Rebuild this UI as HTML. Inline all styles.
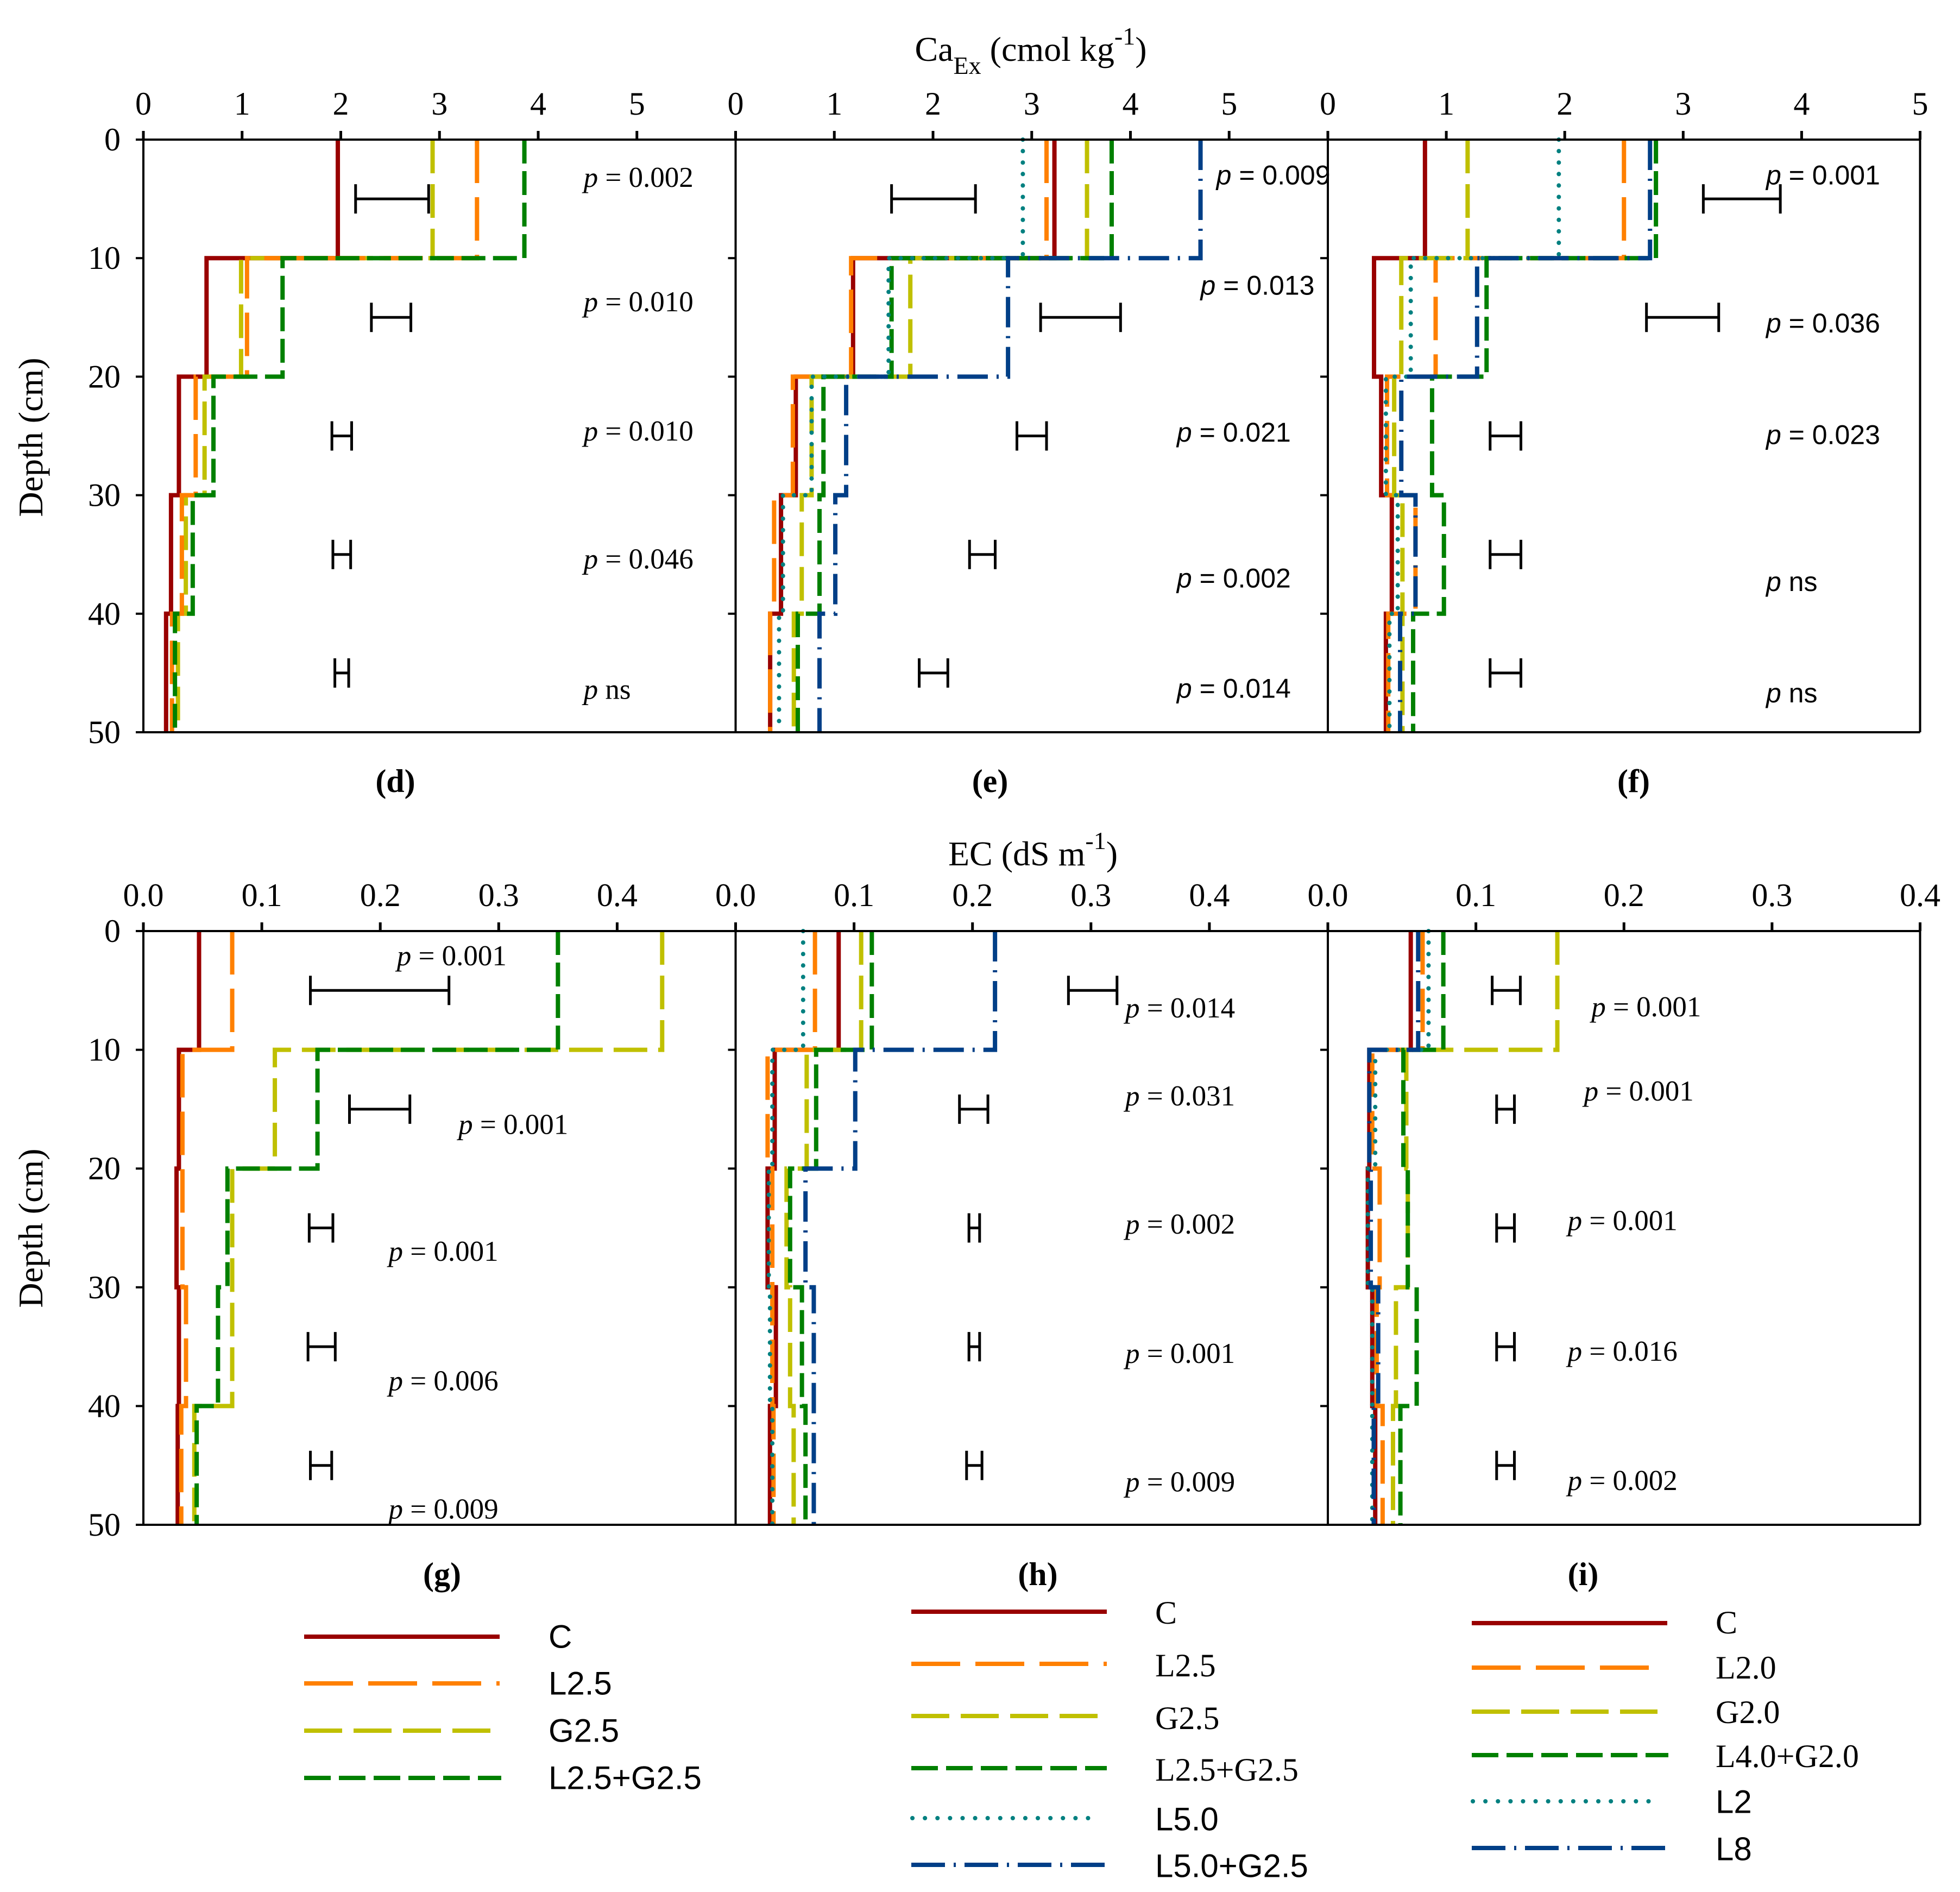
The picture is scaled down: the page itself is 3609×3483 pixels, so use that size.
<!DOCTYPE html>
<html><head><meta charset="utf-8"><style>
html,body{margin:0;padding:0;background:#fff;}
svg{display:block;}
</style></head><body>
<svg id="fig" xmlns="http://www.w3.org/2000/svg" width="3609" height="3483" viewBox="0 0 3609 3483">
<rect width="3609" height="3483" fill="#fff"/>
<g id="root"></g>
</svg>
<script>
// ---------- data ----------
const depthBounds = [0, 10, 20, 30, 40, 50];
const errDepths = [5, 15, 25, 35, 45];
// Panel d (CaEx)
const dC    = [1.97, 0.64, 0.36, 0.28, 0.23];
const dL25  = [3.38, 1.05, 0.53, 0.39, 0.29];
const dG25  = [2.93, 0.99, 0.62, 0.43, 0.35];
const dLG25 = [3.86, 1.41, 0.71, 0.50, 0.32];
const dErrLo = [2.15, 2.31, 1.91, 1.92, 1.94];
const dErrHi = [2.89, 2.71, 2.11, 2.10, 2.08];
const dP = ["= 0.002", "= 0.010", "= 0.010", "= 0.046", "ns"];
// Panel e (CaEx)
const eC    = [3.23, 1.19, 0.61, 0.46, 0.35];
const eL25  = [3.15, 1.17, 0.58, 0.39, 0.35];
const eG25  = [3.56, 1.77, 0.77, 0.67, 0.59];
const eLG25 = [3.81, 1.58, 0.89, 0.85, 0.63];
const eL50  = [2.91, 1.55, 0.77, 0.48, 0.44];
const eLG50 = [4.71, 2.76, 1.12, 1.01, 0.85];
const eErrLo = [1.58, 3.09, 2.85, 2.37, 1.86];
const eErrHi = [2.43, 3.90, 3.15, 2.63, 2.15];
const eP = ["= 0.009", "= 0.013", "= 0.021", "= 0.002", "= 0.014"];
// Panel f (CaEx)
const fC    = [0.82, 0.39, 0.45, 0.54, 0.49];
const fL20  = [2.50, 0.91, 0.50, 0.74, 0.51];
const fG20  = [1.18, 0.62, 0.56, 0.63, 0.63];
const fLG   = [2.77, 1.34, 0.88, 0.98, 0.72];
const fL2   = [1.95, 0.70, 0.49, 0.59, 0.52];
const fL8   = [2.72, 1.26, 0.62, 0.74, 0.61];
const fErrLo = [3.17, 2.69, 1.37, 1.37, 1.37];
const fErrHi = [3.82, 3.30, 1.63, 1.63, 1.63];
const fP = ["= 0.001", "= 0.036", "= 0.023", "ns", "ns"];
// Panel g (EC)
const gC    = [0.047, 0.030, 0.028, 0.030, 0.029];
const gL25  = [0.075, 0.033, 0.033, 0.036, 0.032];
const gG25  = [0.438, 0.111, 0.075, 0.075, 0.043];
const gLG25 = [0.350, 0.147, 0.071, 0.063, 0.045];
const gErrLo = [0.141, 0.174, 0.140, 0.139, 0.141];
const gErrHi = [0.258, 0.225, 0.160, 0.162, 0.159];
const gP = ["= 0.001", "= 0.001", "= 0.001", "= 0.006", "= 0.009"];
// Panel h (EC)
const hC    = [0.087, 0.033, 0.027, 0.034, 0.029];
const hL25  = [0.067, 0.027, 0.031, 0.031, 0.032];
const hG25  = [0.106, 0.060, 0.043, 0.046, 0.049];
const hLG25 = [0.115, 0.068, 0.046, 0.056, 0.059];
const hL50  = [0.057, 0.031, 0.028, 0.029, 0.031];
const hLG50 = [0.219, 0.101, 0.059, 0.066, 0.066];
const hErrLo = [0.281, 0.189, 0.197, 0.197, 0.195];
const hErrHi = [0.322, 0.213, 0.206, 0.206, 0.208];
const hP = ["= 0.014", "= 0.031", "= 0.002", "= 0.001", "= 0.009"];
// Panel i (EC)
const iC    = [0.056, 0.028, 0.027, 0.030, 0.032];
const iL20  = [0.064, 0.030, 0.035, 0.033, 0.037];
const iG20  = [0.155, 0.053, 0.054, 0.046, 0.044];
const iLG   = [0.078, 0.051, 0.054, 0.060, 0.049];
const iL2   = [0.068, 0.032, 0.027, 0.030, 0.030];
const iL8   = [0.061, 0.028, 0.029, 0.034, 0.031];
const iErrLo = [0.111, 0.114, 0.114, 0.114, 0.114];
const iErrHi = [0.130, 0.126, 0.126, 0.126, 0.126];
const iP = ["= 0.001", "= 0.001", "= 0.001", "= 0.016", "= 0.002"];
// tick labels
const caTicks = ["0", "1", "2", "3", "4", "5"];
const ecTicks = ["0.0", "0.1", "0.2", "0.3", "0.4"];
const depthTicks = [0, 10, 20, 30, 40, 50];

// ---------- styles ----------
const ST = {
  C:   {c:"#990000", d:null},
  L:   {c:"#FF8000", d:"80 26"},
  G:   {c:"#C0C000", d:"62 20"},
  LG:  {c:"#008000", d:"44 14"},
  T:   {c:"#008080", d:"0.1 21", cap:"round"},
  B:   {c:"#003F87", d:"56 16 4 16"}
};
const NS = "http://www.w3.org/2000/svg";
const root = document.getElementById("root");
function mk(tag, attrs, parent){
  const e = document.createElementNS(NS, tag);
  for (const k in attrs) e.setAttribute(k, attrs[k]);
  (parent||root).appendChild(e);
  return e;
}
const SERIF = '"Liberation Serif", serif';
const SANS = '"Liberation Sans", sans-serif';

const lefts = [264, 1354.5, 2445];
const PW = 1090.5;

function makePanel(key, col, top, bottom, xmax, series, errLo, errHi, pLabels, pPos, pFont, label, labelX, labelY){
  const g = mk("g", {});
  
  
  const x0 = lefts[col];
  const xs = v => x0 + v / xmax * PW;
  const ys = d => top + d / 50 * (bottom - top);
  series.forEach(s => {
    const vals = s.v;
    let dstr = "M" + xs(vals[0]) + "," + ys(depthBounds[0]);
    for (let k = 0; k < vals.length; k++) {
      dstr += " H" + xs(vals[k]) + " V" + ys(depthBounds[k+1]);
    }
    const st = ST[s.s];
    const p = mk("path", {d: dstr, fill: "none", stroke: st.c, "stroke-width": 8,
      "stroke-linecap": st.cap || "butt", "stroke-linejoin": "miter"}, g);
    if (st.d) p.setAttribute("stroke-dasharray", st.d);
    
    
  });
  errLo.forEach((lo, k) => {
    const y = ys(errDepths[k]);
    const eg = mk("g", {stroke: "#000", "stroke-width": 5, fill: "none"}, g);
    
    
    mk("line", {x1: xs(lo), x2: xs(errHi[k]), y1: y, y2: y}, eg);
    mk("line", {x1: xs(lo), x2: xs(lo), y1: y - 27, y2: y + 27}, eg);
    mk("line", {x1: xs(errHi[k]), x2: xs(errHi[k]), y1: y - 27, y2: y + 27}, eg);
  });
  const pSize = (pFont === SERIF) ? 53 : 50;
  pLabels.forEach((t, k) => {
    const tx = mk("text", {x: xs(pPos[k][0]), y: ys(pPos[k][1]), "font-family": pFont,
      "font-size": pSize, "dominant-baseline": "central", fill: "#000"}, g);
    
    
    const ts = mk("tspan", {"font-style": "italic"}, tx);
    ts.textContent = "p";
    const ts2 = mk("tspan", {}, tx);
    ts2.textContent = " " + t;
  });
  const ax = mk("g", {stroke: "#000", "stroke-width": 4, fill: "none"}, g);
  
  
  mk("line", {x1: x0, x2: x0 + PW, y1: top, y2: top}, ax);
  mk("line", {x1: x0, x2: x0 + PW, y1: bottom, y2: bottom}, ax);
  mk("line", {x1: x0, x2: x0, y1: top, y2: bottom}, ax);
  if (col === 2) mk("line", {x1: x0 + PW, x2: x0 + PW, y1: top, y2: bottom}, ax);
  depthTicks.forEach(d => mk("line", {x1: x0 - 14, x2: x0, y1: ys(d), y2: ys(d)}, ax));
  const lt = mk("text", {x: labelX, y: labelY, "font-family": SERIF, "font-size": 60,
    "font-weight": "bold", "text-anchor": "middle"}, g);
  
  
  lt.textContent = label;
  return {xs, ys};
}

function topAxis(top, ticks, xmax, lastPanelMax, baseline){
  const step = (ticks === caTicks) ? 1 : 0.1;
  for (let col = 0; col < 3; col++) {
    const x0 = lefts[col];
    const mx = (col === 2) ? lastPanelMax : xmax;
    for (let k = 0; k < ticks.length; k++) {
      const v = k * step;
      if (v > mx + 1e-9) break;
      const x = x0 + v / mx * PW;
      const tl = mk("line", {x1: x, x2: x, y1: top - 16, y2: top, stroke: "#000", "stroke-width": 5});
      
      
      const t = mk("text", {x: x, y: baseline, "font-family": SERIF, "font-size": 60, "text-anchor": "middle"});
      
      
      t.textContent = ticks[k];
    }
  }
}

function yAxisLabels(top, bottom){
  depthTicks.forEach(d => {
    const t = mk("text", {x: 222, y: top + d / 50 * (bottom - top), "font-family": SERIF,
      "font-size": 60, "text-anchor": "end", "dominant-baseline": "central"});
    
    
    t.textContent = d;
  });
}

const T0 = 257, T1 = 1348;
const B0 = 1714, B1 = 2807;
const posD = [[4.46,3.2],[4.46,13.7],[4.46,24.6],[4.46,35.4],[4.46,46.4]];
const posE = [[4.87,3.0],[4.71,12.3],[4.47,24.7],[4.47,37.0],[4.47,46.3]];
const posF = [[3.70,3.0],[3.70,15.5],[3.70,24.9],[3.70,37.3],[3.70,46.7]];
makePanel("d", 0, T0, T1, 6, [
  {v:dC, s:"C", n:"C"}, {v:dG25, s:"G", n:"G2.5"}, {v:dL25, s:"L", n:"L2.5"}, {v:dLG25, s:"LG", n:"L2.5+G2.5"}
], dErrLo, dErrHi, dP, posD, SERIF, "(d)", 728, 1458);
makePanel("e", 1, T0, T1, 6, [
  {v:eC, s:"C", n:"C"}, {v:eL25, s:"L", n:"L2.5"}, {v:eG25, s:"G", n:"G2.5"}, {v:eLG25, s:"LG", n:"L2.5+G2.5"},
  {v:eL50, s:"T", n:"L5.0"}, {v:eLG50, s:"B", n:"L5.0+G2.5"}
], eErrLo, eErrHi, eP, posE, SANS, "(e)", 1823, 1458);
makePanel("f", 2, T0, T1, 5, [
  {v:fC, s:"C", n:"C"}, {v:fL20, s:"L", n:"L2.0"}, {v:fG20, s:"G", n:"G2.0"}, {v:fLG, s:"LG", n:"L4.0+G2.0"},
  {v:fL2, s:"T", n:"L2"}, {v:fL8, s:"B", n:"L8"}
], fErrLo, fErrHi, fP, posF, SANS, "(f)", 3008, 1458);
topAxis(T0, caTicks, 6, 5, 211);
yAxisLabels(T0, T1);

const posG = [[0.214,2.1],[0.266,16.3],[0.207,27.0],[0.207,37.9],[0.207,48.7]];
const posH = [[0.329,6.5],[0.329,13.9],[0.329,24.7],[0.329,35.6],[0.329,46.4]];
const posI = [[0.178,6.4],[0.173,13.5],[0.162,24.4],[0.162,35.4],[0.162,46.3]];
makePanel("g", 0, B0, B1, 0.5, [
  {v:gC, s:"C", n:"C"}, {v:gL25, s:"L", n:"L2.5"}, {v:gG25, s:"G", n:"G2.5"}, {v:gLG25, s:"LG", n:"L2.5+G2.5"}
], gErrLo, gErrHi, gP, posG, SERIF, "(g)", 814, 2918);
makePanel("h", 1, B0, B1, 0.5, [
  {v:hC, s:"C", n:"C"}, {v:hL25, s:"L", n:"L2.5"}, {v:hG25, s:"G", n:"G2.5"}, {v:hLG25, s:"LG", n:"L2.5+G2.5"},
  {v:hL50, s:"T", n:"L5.0"}, {v:hLG50, s:"B", n:"L5.0+G2.5"}
], hErrLo, hErrHi, hP, posH, SERIF, "(h)", 1911, 2918);
makePanel("i", 2, B0, B1, 0.4, [
  {v:iC, s:"C", n:"C"}, {v:iL20, s:"L", n:"L2.0"}, {v:iG20, s:"G", n:"G2.0"}, {v:iLG, s:"LG", n:"L4.0+G2.0"},
  {v:iL2, s:"T", n:"L2"}, {v:iL8, s:"B", n:"L8"}
], iErrLo, iErrHi, iP, posI, SERIF, "(i)", 2915, 2918);
topAxis(B0, ecTicks, 0.5, 0.4, 1668);
yAxisLabels(B0, B1);
</script>
<svg style="position:absolute;left:0;top:0" width="3609" height="3483" xmlns="http://www.w3.org/2000/svg">
<text x="1898" y="112" text-anchor="middle" font-family="Liberation Serif, serif" font-size="64">Ca<tspan font-size="46" dy="24">Ex</tspan><tspan dy="-24"> (cmol kg</tspan><tspan font-size="46" dy="-30">-1</tspan><tspan dy="30">)</tspan></text>
<text x="1902" y="1593" text-anchor="middle" font-family="Liberation Serif, serif" font-size="64">EC (dS m<tspan font-size="46" dy="-30">-1</tspan><tspan dy="30">)</tspan></text>
<text transform="translate(78,805) rotate(-90)" text-anchor="middle" font-family="Liberation Serif, serif" font-size="64">Depth (cm)</text>
<text transform="translate(78,2261) rotate(-90)" text-anchor="middle" font-family="Liberation Serif, serif" font-size="64">Depth (cm)</text>
<g font-family="Liberation Sans, sans-serif" font-size="60" stroke-width="8">
 <line x1="560" x2="920" y1="3013" y2="3013" stroke="#990000"/>
 <line x1="560" x2="920" y1="3099" y2="3099" stroke="#FF8000" stroke-dasharray="90 28"/>
 <line x1="560" x2="905" y1="3186" y2="3186" stroke="#C0C000" stroke-dasharray="70 21"/>
 <line x1="560" x2="923" y1="3273" y2="3273" stroke="#008000" stroke-dasharray="49 15"/>
 <text x="1010" y="3013" dominant-baseline="central">C</text>
 <text x="1010" y="3099" dominant-baseline="central">L2.5</text>
 <text x="1010" y="3186" dominant-baseline="central">G2.5</text>
 <text x="1010" y="3273" dominant-baseline="central">L2.5+G2.5</text>
</g>
<g font-family="Liberation Serif, serif" font-size="60" stroke-width="8">
 <line x1="1678" x2="2038" y1="2967" y2="2967" stroke="#990000"/>
 <line x1="1678" x2="2038" y1="3063" y2="3063" stroke="#FF8000" stroke-dasharray="90 28"/>
 <line x1="1678" x2="2022" y1="3159" y2="3159" stroke="#C0C000" stroke-dasharray="70 21"/>
 <line x1="1678" x2="2038" y1="3255" y2="3255" stroke="#008000" stroke-dasharray="49 15"/>
 <line x1="1680" x2="2020" y1="3347" y2="3347" stroke="#008080" stroke-dasharray="0.1 23" stroke-linecap="round"/>
 <line x1="1678" x2="2038" y1="3433" y2="3433" stroke="#003F87" stroke-dasharray="62 16 4 16"/>
 <text x="2127" y="2969" dominant-baseline="central">C</text>
 <text x="2127" y="3066" dominant-baseline="central">L2.5</text>
 <text x="2127" y="3163" dominant-baseline="central">G2.5</text>
 <text x="2127" y="3258" dominant-baseline="central">L2.5+G2.5</text>
 <text x="2127" y="3349" dominant-baseline="central" font-family="Liberation Sans, sans-serif">L5.0</text>
 <text x="2127" y="3435" dominant-baseline="central" font-family="Liberation Sans, sans-serif">L5.0+G2.5</text>
</g>
<g font-family="Liberation Serif, serif" font-size="60" stroke-width="8">
 <line x1="2710" x2="3070" y1="2988" y2="2988" stroke="#990000"/>
 <line x1="2710" x2="3040" y1="3070" y2="3070" stroke="#FF8000" stroke-dasharray="90 28"/>
 <line x1="2710" x2="3052" y1="3151" y2="3151" stroke="#C0C000" stroke-dasharray="70 21"/>
 <line x1="2710" x2="3072" y1="3231" y2="3231" stroke="#008000" stroke-dasharray="49 15"/>
 <line x1="2712" x2="3052" y1="3316" y2="3316" stroke="#008080" stroke-dasharray="0.1 23" stroke-linecap="round"/>
 <line x1="2710" x2="3072" y1="3402" y2="3402" stroke="#003F87" stroke-dasharray="62 16 4 16"/>
 <text x="3159" y="2987" dominant-baseline="central">C</text>
 <text x="3159" y="3070" dominant-baseline="central">L2.0</text>
 <text x="3159" y="3152" dominant-baseline="central">G2.0</text>
 <text x="3159" y="3233" dominant-baseline="central">L4.0+G2.0</text>
 <text x="3159" y="3317" dominant-baseline="central" font-family="Liberation Sans, sans-serif">L2</text>
 <text x="3159" y="3404" dominant-baseline="central" font-family="Liberation Sans, sans-serif">L8</text>
</g>
</svg>
</body></html>
